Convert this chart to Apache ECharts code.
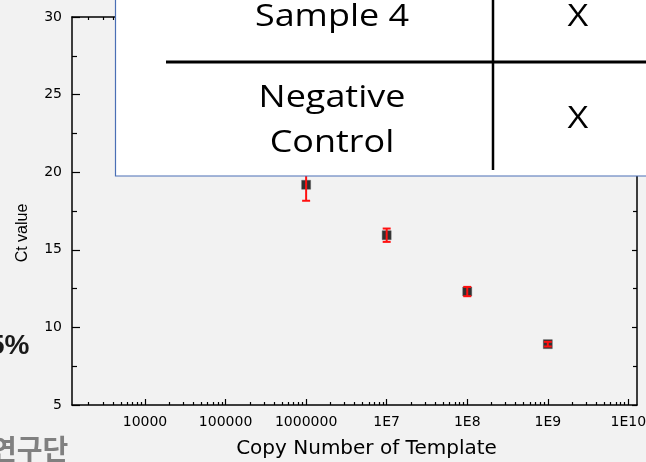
<!DOCTYPE html>
<html>
<head>
<meta charset="utf-8">
<script src="https://cdn.jsdelivr.net/npm/echarts@6/dist/echarts.min.js"></script>
<style>
  html, body { margin: 0; padding: 0; background: #f2f2f2; }
  #chart { width: 646px; height: 462px; }
</style>
</head>
<body>
<div id="chart"></div>
<script>
// ---- data ----
const copyNumbers = [1e6, 1e7, 1e8, 1e9];
const ctMeans = [19.19, 15.94, 12.31, 8.92];
const ctErrors = [1.03, 0.43, 0.30, 0.15];
const xMajorTicks = [1e4, 1e5, 1e6, 1e7, 1e8, 1e9, 1e10];
const xMinorTicks = [];
[1e3, 1e4, 1e5, 1e6, 1e7, 1e8, 1e9, 1e10].forEach(function (d) {
  for (let k = 2; k <= 9; k++) xMinorTicks.push(d * k);
});
const xMin = 1241, xMax = 1.28e10;
const yMin = 5, yMax = 30, yStep = 5;
const tableRows = [["Sample 4", "X"], ["Negative\nControl", "X"]];
const xTitle = "Copy Number of Template";
const yTitle = "Ct value";

function fmtX(v) {
  const e = Math.round(Math.log10(v));
  return e <= 6 ? String(Math.round(Math.pow(10, e))) : "1E" + e;
}

const chart = echarts.init(document.getElementById('chart'), null, { renderer: 'canvas' });
const FONT = '"DejaVu Sans", "Liberation Sans", Arial, sans-serif';
const lineStyle = { color: '#000', width: 1.5 };

function xAxisBase(pos) {
  return {
    type: 'log', logBase: 10, min: xMin, max: xMax, position: pos,
    axisLine: { show: true, lineStyle: lineStyle },
    splitLine: { show: false },
    axisLabel: { show: false },
    axisTick: { show: false }
  };
}
function yAxisBase(pos) {
  return {
    type: 'value', min: yMin, max: yMax, interval: yStep, position: pos,
    axisLine: { show: true, lineStyle: lineStyle },
    splitLine: { show: false },
    axisLabel: { show: false },
    axisTick: { show: true, inside: true, length: pos === 'left' ? 8 : 5, lineStyle: { color: '#000', width: 1.2 } },
    minorTick: { show: true, splitNumber: 2, length: pos === 'left' ? 5 : 4, lineStyle: { color: '#000', width: 1.2 } }
  };
}

const xBottom = xAxisBase('bottom');
xBottom.axisTick = { show: true, inside: true, length: 6, customValues: xMajorTicks, lineStyle: { color: '#000', width: 1.2 } };
xBottom.axisLabel = { show: true, customValues: xMajorTicks, formatter: fmtX, color: '#000', fontFamily: FONT, fontSize: 14, margin: 10 };
xBottom.name = xTitle;
xBottom.nameLocation = 'middle';
xBottom.nameGap = 34;
xBottom.nameTextStyle = { color: '#000', fontFamily: FONT, fontSize: 20, padding: [0, 0, 0, 24] };

const xTop = xAxisBase('top');
xTop.axisTick = { show: true, inside: true, length: 6, customValues: xMajorTicks, lineStyle: { color: '#000', width: 1.2 } };

const xBottomMinor = xAxisBase('bottom');
xBottomMinor.axisLine = { show: false };
xBottomMinor.axisTick = { show: true, inside: true, length: 3, customValues: xMinorTicks, lineStyle: { color: '#000', width: 1.2 } };

const xTopMinor = xAxisBase('top');
xTopMinor.axisLine = { show: false };
xTopMinor.axisTick = { show: true, inside: true, length: 3, customValues: xMinorTicks, lineStyle: { color: '#000', width: 1.2 } };

const yLeft = yAxisBase('left');
yLeft.axisLabel = { show: true, color: '#000', fontFamily: FONT, fontSize: 14, margin: 10 };
yLeft.name = yTitle;
yLeft.nameLocation = 'middle';
yLeft.nameGap = 41;
yLeft.nameTextStyle = { color: '#000', fontFamily: '"Liberation Sans", Arial, sans-serif', fontSize: 16, padding: [0, 44, 0, 0] };
const yRight = yAxisBase('right');

const points = copyNumbers.map(function (c, i) { return [c, ctMeans[i]]; });
const errData = copyNumbers.map(function (c, i) { return [c, ctMeans[i] - ctErrors[i], ctMeans[i] + ctErrors[i]]; });

const tableFont = '"Open Sans", "Noto Sans", sans-serif';
const TZ = 100;
const SX = 1.16;

const option = {
  backgroundColor: '#f2f2f2',
  animation: false,
  grid: { left: 72, right: 9, top: 17, bottom: 57, containLabel: false, outerBoundsMode: 'none' },
  xAxis: [xBottom, xTop, xBottomMinor, xTopMinor],
  yAxis: [yLeft, yRight],
  series: [
    {
      type: 'scatter', xAxisIndex: 0, yAxisIndex: 0,
      symbol: 'rect', symbolSize: 9,
      itemStyle: { color: '#000', borderColor: '#555', borderWidth: 0.5 },
      data: points, z: 3
    },
    {
      type: 'custom', xAxisIndex: 0, yAxisIndex: 0, z: 4,
      data: errData,
      renderItem: function (params, api) {
        const x = api.value(0);
        const lo = api.coord([x, api.value(1)]);
        const hi = api.coord([x, api.value(2)]);
        const hw = 4;
        const st = { stroke: '#ff1010', lineWidth: 2 };
        return {
          type: 'group',
          children: [
            { type: 'line', shape: { x1: lo[0], y1: lo[1], x2: hi[0], y2: hi[1] }, style: st },
            { type: 'line', shape: { x1: lo[0] - hw, y1: lo[1], x2: lo[0] + hw, y2: lo[1] }, style: st },
            { type: 'line', shape: { x1: hi[0] - hw, y1: hi[1], x2: hi[0] + hw, y2: hi[1] }, style: st }
          ]
        };
      }
    }
  ],
  graphic: [
    { type: 'rect', z: TZ, shape: { x: 115.5, y: -5, width: 560, height: 181 },
      style: { fill: '#fff', stroke: '#4a6fb5', lineWidth: 1.2 } },
    { type: 'line', z: TZ + 1, shape: { x1: 166, y1: 62, x2: 660, y2: 62 }, style: { stroke: '#000', lineWidth: 3 } },
    { type: 'line', z: TZ + 1, shape: { x1: 493, y1: -2, x2: 493, y2: 170 }, style: { stroke: '#000', lineWidth: 2.5 } },
    { type: 'text', z: TZ + 2, x: 332, y: 17, scaleX: SX, style: { text: tableRows[0][0], font: '31px ' + tableFont, fill: '#000', align: 'center', verticalAlign: 'middle' } },
    { type: 'text', z: TZ + 2, x: 578, y: 17, scaleX: SX, style: { text: tableRows[0][1], font: '31px ' + tableFont, fill: '#000', align: 'center', verticalAlign: 'middle' } },
    { type: 'text', z: TZ + 2, x: 332, y: 121, scaleX: SX, style: { text: tableRows[1][0], font: '31px ' + tableFont, lineHeight: 45, fill: '#000', align: 'center', verticalAlign: 'middle' } },
    { type: 'text', z: TZ + 2, x: 578, y: 119, scaleX: SX, style: { text: tableRows[1][1], font: '31px ' + tableFont, fill: '#000', align: 'center', verticalAlign: 'middle' } },
    { type: 'text', z: TZ, x: -11, y: 346, style: { text: '5%', font: 'bold 28px "Liberation Sans", Arial, sans-serif', fill: '#1a1a1a', align: 'left', verticalAlign: 'middle' } },
    { type: 'text', z: TZ, x: -9, y: 449, style: { text: '연구단', font: 'bold 28px "Noto Sans CJK KR", sans-serif', fill: '#808080', align: 'left', verticalAlign: 'middle' } }
  ]
};
chart.setOption(option);
</script>
</body>
</html>
